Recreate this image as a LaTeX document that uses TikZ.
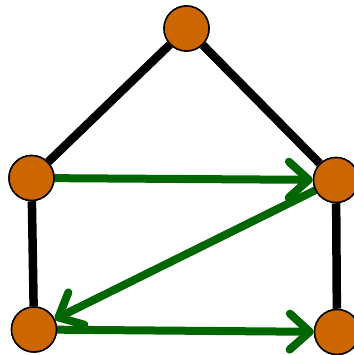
\documentclass[tikz,border=0pt]{standalone}
\usetikzlibrary{arrows.meta}
\definecolor{nodeorange}{RGB}{204,102,0}
\definecolor{edgegreen}{RGB}{0,102,0}
\begin{document}
\begin{tikzpicture}[x=1pt,y=-1pt,
  vert/.style={circle,draw=black,line width=1.5pt,fill=nodeorange,minimum size=45pt,inner sep=0pt},
  blackedge/.style={draw=black,line width=8.5pt},
  greenarrow/.style={draw=edgegreen,line width=8pt,line cap=round,
    -{Straight Barb[length=20pt,width=36pt,line cap=round,line join=round]}}]
\useasboundingbox (0,0) rectangle (353,355);
\node[vert] (t) at (186.5,28.5) {};
\node[vert] (lm) at (31.5,178) {};
\node[vert] (rm) at (336,180) {};
\node[vert] (bl) at (34,329.5) {};
\node[vert] (br) at (337,332) {};
\path[blackedge] (t) -- (lm);
\path[blackedge] (t) -- (rm);
\path[blackedge] (lm) -- (bl);
\path[blackedge] (rm) -- (br);
\path[greenarrow] (lm) -- (rm);
\path[greenarrow] (rm) -- (bl);
\path[greenarrow] (bl) -- (br);
\node[vert] at (t) {};
\node[vert] at (lm) {};
\node[vert] at (rm) {};
\node[vert] at (bl) {};
\node[vert] at (br) {};
\end{tikzpicture}
\end{document}
